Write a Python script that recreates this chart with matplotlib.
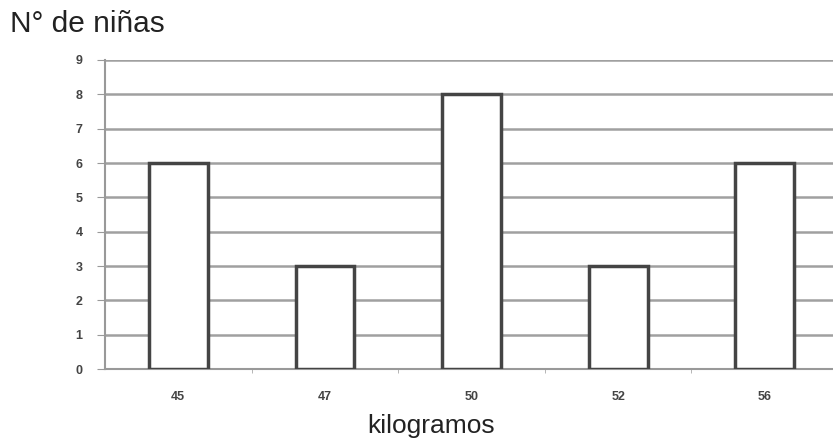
import numpy as np
import matplotlib.pyplot as plt

kilos = ['45', '47', '50', '52', '56']
ninas = [6, 3, 8, 3, 6]

plt.rcParams['font.family'] = ['Liberation Sans', 'DejaVu Sans']

fig = plt.figure(figsize=(8.33, 4.41), dpi=100)
ax = fig.add_axes([0.126, 0.163, 0.874, 0.701])

x = np.arange(len(kilos))
ax.bar(x, ninas, width=0.4, color='white', edgecolor='#444444', linewidth=2.5, zorder=3)

ax.set_xlim(-0.5, 4.465)
ax.set_ylim(0, 9)
ax.set_yticks(range(0, 10))
ax.set_xticks(x)
ax.set_xticklabels(kilos)
ax.set_xticks(x[:-1] + 0.5, minor=True)
ax.yaxis.grid(True, color='#a0a0a0', linewidth=1.8, zorder=0)
ax.set_axisbelow(True)

for s in ['top', 'right']:
    ax.spines[s].set_visible(False)
ax.spines['left'].set_color('#999999')
ax.spines['bottom'].set_color('#999999')
ax.spines['left'].set_linewidth(1.5)
ax.spines['bottom'].set_linewidth(1.5)

ax.tick_params(axis='y', length=6, color='#999999', labelsize=9, labelcolor='#444444', pad=10)
ax.tick_params(axis='x', which='major', length=0, labelsize=9, labelcolor='#444444', pad=16)
ax.tick_params(axis='x', which='minor', length=3, color='#aaaaaa')
for lab in ax.get_xticklabels() + ax.get_yticklabels():
    lab.set_fontweight('bold')

fig.text(0.012, 0.927, 'N° de niñas', fontsize=21.5, color='#222222', va='baseline')
fig.text(0.518, 0.018, 'kilogramos', fontsize=19, color='#222222', ha='center', va='baseline')

fig.savefig('out.png')
